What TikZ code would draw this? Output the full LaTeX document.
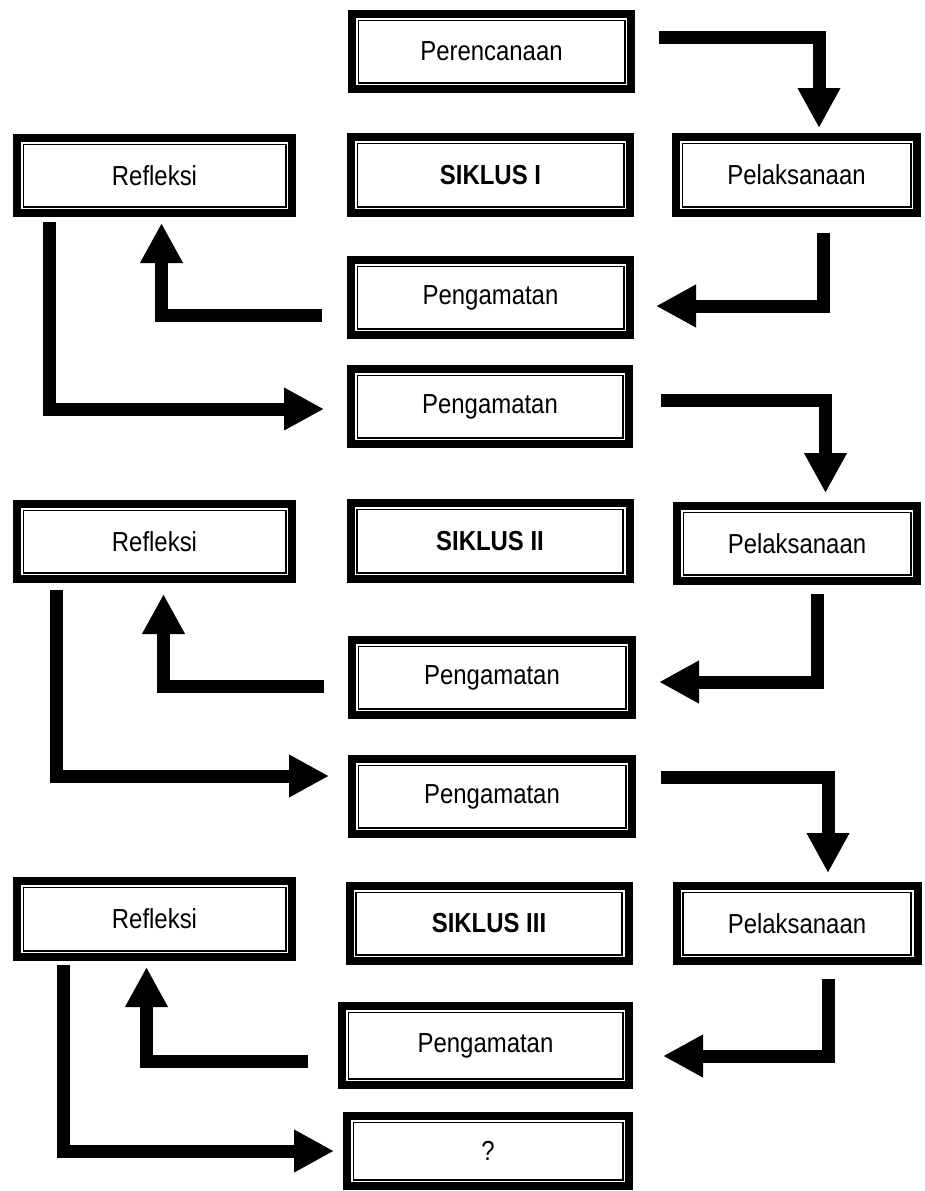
\documentclass[tikz,border=0pt]{standalone}
\usepackage{graphicx}
\usepackage{fontspec}
\setmainfont{Liberation Sans}
\usetikzlibrary{arrows.meta}
\newcommand{\hsq}[1]{\scalebox{0.87}[1]{#1}}
\tikzset{
  frame/.style={draw, line width=8pt, rectangle, inner sep=0pt, fill=white,
    font=\fontsize{27.5}{30}\selectfont,
    path picture={\draw[line width=1.6pt]
      ([shift={(6.3pt,-6.3pt)}]path picture bounding box.north west) rectangle
      ([shift={(-6.3pt,6.3pt)}]path picture bounding box.south east);}},
  arr/.style={line width=13pt, line join=miter, -{Triangle[length=40pt,width=40pt]}}
}
\begin{document}
\begin{tikzpicture}[x=1pt,y=-1pt]
\fill[white] (0,0) rectangle (925,1191);
\useasboundingbox (0,0) rectangle (925,1191);
% cycle I
\node[frame, minimum width=279pt, minimum height=75pt] (per) at (491.5,51.5) {\hsq{Perencanaan}};
\node[frame, minimum width=275pt, minimum height=75pt] (refl1) at (154.5,175.5) {\hsq{Refleksi}};
\node[frame, minimum width=279pt, minimum height=76pt] (sik1) at (490.5,175) {\hsq{\bfseries SIKLUS I}};
\node[frame, minimum width=241pt, minimum height=76pt] (pel1) at (796.5,175) {\hsq{Pelaksanaan}};
\node[frame, minimum width=279pt, minimum height=75pt] (peng1) at (490.5,297.5) {\hsq{Pengamatan}};
\node[frame, minimum width=278pt, minimum height=75pt] (peng2) at (490,406.5) {\hsq{Pengamatan}};
% cycle II
\node[frame, minimum width=275pt, minimum height=75pt] (refl2) at (154.5,541.5) {\hsq{Refleksi}};
\node[frame, minimum width=279pt, minimum height=76pt] (sik2) at (490,541) {\hsq{\bfseries SIKLUS II}};
\node[frame, minimum width=240pt, minimum height=75pt] (pel2) at (797,543.5) {\hsq{Pelaksanaan}};
\node[frame, minimum width=280pt, minimum height=75pt] (peng3) at (492,677.5) {\hsq{Pengamatan}};
\node[frame, minimum width=280pt, minimum height=75pt] (peng4) at (492,796.5) {\hsq{Pengamatan}};
% cycle III
\node[frame, minimum width=275pt, minimum height=76pt] (refl3) at (154.5,919) {\hsq{Refleksi}};
\node[frame, minimum width=279pt, minimum height=75pt] (sik3) at (489,923.5) {\hsq{\bfseries SIKLUS III}};
\node[frame, minimum width=241pt, minimum height=75pt] (pel3) at (797,923.5) {\hsq{Pelaksanaan}};
\node[frame, minimum width=287pt, minimum height=79pt] (peng5) at (485.5,1045.5) {\hsq{Pengamatan}};
\node[frame, minimum width=282pt, minimum height=70pt] (q) at (488,1151) {\hsq{?}};
% arrows
\draw[arr] ([xshift=24pt,yshift=14.5pt]per.east) -| ([xshift=22.5pt,yshift=5pt]pel1.north);
\draw[arr] ([xshift=26.5pt,yshift=-16pt]pel1.south) |- ([xshift=22pt,yshift=-8.5pt]peng1.east);
\draw[arr] ([xshift=-25pt,yshift=-17.5pt]peng1.west) -| ([xshift=7pt,yshift=-6pt]refl1.south);
\draw[arr] ([xshift=-105pt,yshift=-5pt]refl1.south) |- ([xshift=-23pt,yshift=-2.5pt]peng2.west);
\draw[arr] ([xshift=28pt,yshift=6pt]peng2.east) -| ([xshift=28.5pt,yshift=9pt]pel2.north);
\draw[arr] ([xshift=20pt,yshift=-9pt]pel2.south) |- ([xshift=23pt,yshift=-4.5pt]peng3.east);
\draw[arr] ([xshift=-24pt,yshift=-9pt]peng3.west) -| ([xshift=9pt,yshift=-11pt]refl2.south);
\draw[arr] ([xshift=-98pt,yshift=-7pt]refl2.south) |- ([xshift=-19pt,yshift=20.5pt]peng4.west);
\draw[arr] ([xshift=25pt,yshift=19pt]peng4.east) -| ([xshift=31pt,yshift=9pt]pel3.north);
\draw[arr] ([xshift=31.5pt,yshift=-14pt]pel3.south) |- ([xshift=30pt,yshift=-10.5pt]peng5.east);
\draw[arr] ([xshift=-30pt,yshift=-15.5pt]peng5.west) -| ([xshift=-8pt,yshift=-6pt]refl3.south);
\draw[arr] ([xshift=-91.5pt,yshift=-4pt]refl3.south) |- ([xshift=-9pt,yshift=0pt]q.west);
\end{tikzpicture}
\end{document}
